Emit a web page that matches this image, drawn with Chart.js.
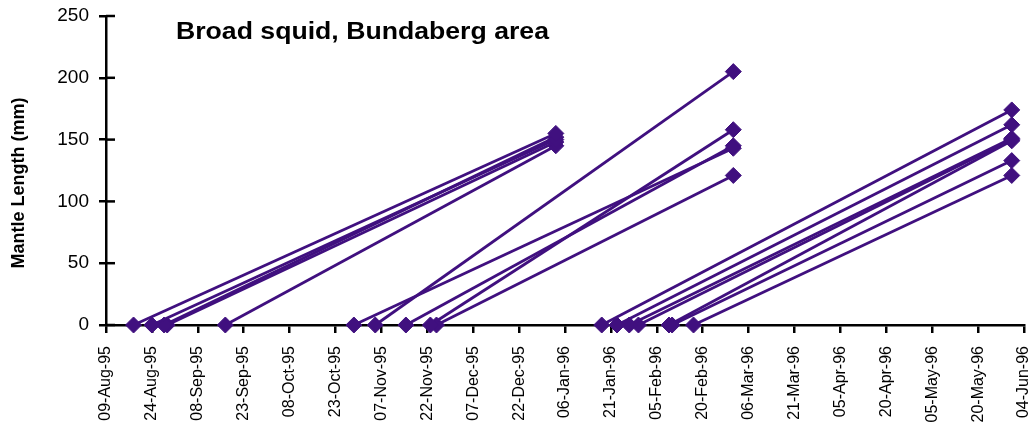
<!DOCTYPE html>
<html lang="en">
<head>
    <meta charset="UTF-8">
    <title>Broad squid, Bundaberg area</title>
    <script src="https://cdn.jsdelivr.net/npm/chart.js"></script>
    <style>
        body { margin: 0; background: #fff; }
        .container { width: 1033px; height: 425px; position: relative; }
    </style>
</head>
<body>

<div class="container">
    <canvas id="myChart"></canvas>
</div>

<script>
    // one line per squid: hatch date (length 0) -> capture date (mantle length)
    const hatchDates = [
        '1995-08-18', '1995-08-24', '1995-08-28', '1995-08-29', '1995-09-17',
        '1995-10-29', '1995-11-05', '1995-11-15', '1995-11-23', '1995-11-25',
        '1996-01-18', '1996-01-23', '1996-01-27', '1996-01-30', '1996-02-09', '1996-02-10', '1996-02-17'
    ];
    const captureDates = [
        '1996-01-03', '1996-01-03', '1996-01-03', '1996-01-03', '1996-01-03',
        '1996-03-01', '1996-03-01', '1996-03-01', '1996-03-01', '1996-03-01',
        '1996-05-31', '1996-05-31', '1996-05-31', '1996-05-31', '1996-05-31', '1996-05-31', '1996-05-31'
    ];
    const mantleLengths = [
        155, 150, 152, 148, 145,
        143, 205, 145, 158, 121,
        174, 162, 151, 150, 149, 133, 121
    ];

    const startDate = '1995-08-09';
    const tickLabels = [
        '09-Aug-95', '24-Aug-95', '08-Sep-95', '23-Sep-95', '08-Oct-95', '23-Oct-95', '07-Nov-95',
        '22-Nov-95', '07-Dec-95', '22-Dec-95', '06-Jan-96', '21-Jan-96', '05-Feb-96', '20-Feb-96',
        '06-Mar-96', '21-Mar-96', '05-Apr-96', '20-Apr-96', '05-May-96', '20-May-96', '04-Jun-96'
    ];
    const yTicks = [0, 50, 100, 150, 200, 250];

    const purple = '#40107f';
    const font = "'Liberation Sans', Arial, sans-serif";

    function dayNum(d) {
        return (Date.parse(d) - Date.parse(startDate)) / 86400000;
    }

    const datasets = hatchDates.map((h, i) => ({
        data: [
            { x: dayNum(h), y: 0 },
            { x: dayNum(captureDates[i]), y: mantleLengths[i] }
        ],
        showLine: true,
        borderColor: purple,
        borderWidth: 2.8,
        pointStyle: 'rectRot',
        pointRadius: 8,
        pointBackgroundColor: purple,
        pointBorderColor: purple,
        pointBorderWidth: 1,
        clip: false
    }));

    // tick marks that cross into the plot + the free-floating texts
    const extras = {
        id: 'extras',
        beforeDatasetsDraw(chart) {
            const { ctx, chartArea, scales: { y } } = chart;
            ctx.save();
            ctx.strokeStyle = '#000';
            ctx.lineWidth = 2.5;
            yTicks.forEach(v => {
                const py = y.getPixelForValue(v);
                ctx.beginPath();
                ctx.moveTo(chartArea.left, py);
                ctx.lineTo(chartArea.left + 9, py);
                ctx.stroke();
            });
            ctx.restore();
        },
        afterDraw(chart) {
            const ctx = chart.ctx;
            ctx.save();
            ctx.fillStyle = '#000';
            ctx.font = 'bold 23px ' + font;
            ctx.textBaseline = 'alphabetic';
            ctx.translate(176, 39);
            ctx.scale(1.158, 1);
            ctx.fillText('Broad squid, Bundaberg area', 0, 0);
            ctx.restore();

            ctx.save();
            ctx.fillStyle = '#000';
            ctx.font = 'bold 18px ' + font;
            ctx.textAlign = 'center';
            ctx.textBaseline = 'middle';
            ctx.translate(19, 183);
            ctx.rotate(-Math.PI / 2);
            ctx.fillText('Mantle Length (mm)', 0, 0);
            ctx.restore();
        }
    };

    const ctx = document.getElementById('myChart').getContext('2d');
    const myChart = new Chart(ctx, {
        type: 'scatter',
        data: { datasets: datasets },
        plugins: [extras],
        options: {
            responsive: true,
            maintainAspectRatio: false,
            animation: false,
            layout: { padding: { top: 16, right: 3, left: 0, bottom: 0 } },
            plugins: {
                legend: { display: false },
                tooltip: { enabled: false }
            },
            scales: {
                x: {
                    type: 'linear',
                    min: 0,
                    max: 300,
                    afterFit: s => { s.height = 100; s.paddingLeft = 0; s.paddingRight = 0; },
                    afterBuildTicks: s => { s.ticks = tickLabels.map((t, i) => ({ value: i * 15 })); },
                    ticks: {
                        autoSkip: false,
                        maxRotation: 90,
                        minRotation: 90,
                        padding: 13,
                        color: '#000',
                        font: { family: font, size: 16 },
                        callback: v => tickLabels[Math.round(v / 15)]
                    },
                    grid: { drawOnChartArea: false, drawTicks: true, tickLength: 8, color: '#000', lineWidth: 2.5 },
                    border: { display: true, color: '#000', width: 2.5 }
                },
                y: {
                    min: 0,
                    max: 250,
                    afterFit: s => { s.width = 106; s.paddingTop = 0; s.paddingBottom = 0; },
                    afterBuildTicks: s => { s.ticks = yTicks.map(v => ({ value: v })); },
                    ticks: {
                        padding: 10,
                        color: '#000',
                        font: { family: font, size: 19 }
                    },
                    grid: { drawOnChartArea: false, drawTicks: true, tickLength: 7, color: '#000', lineWidth: 2.5 },
                    border: { display: true, color: '#000', width: 2.5 }
                }
            }
        }
    });
</script>

</body>
</html>
